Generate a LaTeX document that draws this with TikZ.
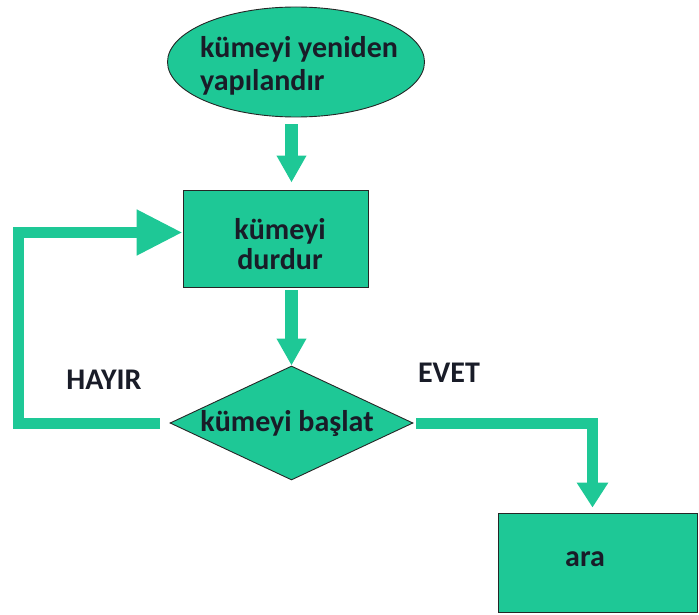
\documentclass[tikz,border=0pt]{standalone}
\usepackage{fontspec}
\setmainfont{Carlito}
\usetikzlibrary{shapes.geometric,arrows.meta,calc}
\definecolor{flow}{RGB}{30,200,150}
\definecolor{ink}{RGB}{25,28,40}
\begin{document}
\begin{tikzpicture}[x=1pt,y=-1pt,
  box/.style={draw=black!85, line width=0.9pt, fill=flow},
  txt/.style={font=\fontsize{30}{33}\selectfont\bfseries, text=ink, align=center, inner sep=0pt},
  flowarrow/.style={draw=flow, line width=13pt, -{Triangle[length=27pt,width=28pt]}}]
\useasboundingbox (0,0) rectangle (699,615);

% shapes
\node[box, ellipse, minimum width=257, minimum height=110, inner sep=0pt] (rebuild) at (296,62) {};
\node[box, minimum width=185, minimum height=97, inner sep=0pt] (stop) at (275.5,238.5) {};
\node[box, diamond, minimum width=243, minimum height=114, inner sep=0pt] (start) at (291.5,423) {};
\node[box, minimum width=199, minimum height=99, inner sep=0pt] (ara) at (597.5,562.5) {};

% texts
\node[txt, align=left] (rebuildtxt) at (299,66) {kümeyi yeniden\\yapılandır};
\node[txt, font=\fontsize{30}{30}\selectfont\bfseries] (stoptxt) at (280,244) {kümeyi\\durdur};
\node[txt] (starttxt) at (287,423) {kümeyi başlat};
\node[txt] (aratxt) at (585,559) {ara};
\node[txt] (no) at (104,380) {HAYIR};
\node[txt] (yes) at (449,373) {EVET};

% connectors
\draw[flowarrow, shorten <=7pt, shorten >=7pt] (rebuild.south -| start.north) -- (stop.north -| start.north);
\draw[flowarrow, shorten <=3pt] (stop.south -| start.north) -- (start.north);
\draw[flowarrow, line width=11pt, -{Triangle[length=46pt,width=43pt]}, shorten <=10pt]
  (start.west) -- ++(-151,0) |- ($(stop.west)+(0,-6)$);
\draw[flowarrow, line width=11pt, -{Triangle[length=25pt,width=30pt]}, shorten <=3pt, shorten >=5pt]
  (start.east) -| ($(ara.north)+(-5,0)$);
\end{tikzpicture}
\end{document}
